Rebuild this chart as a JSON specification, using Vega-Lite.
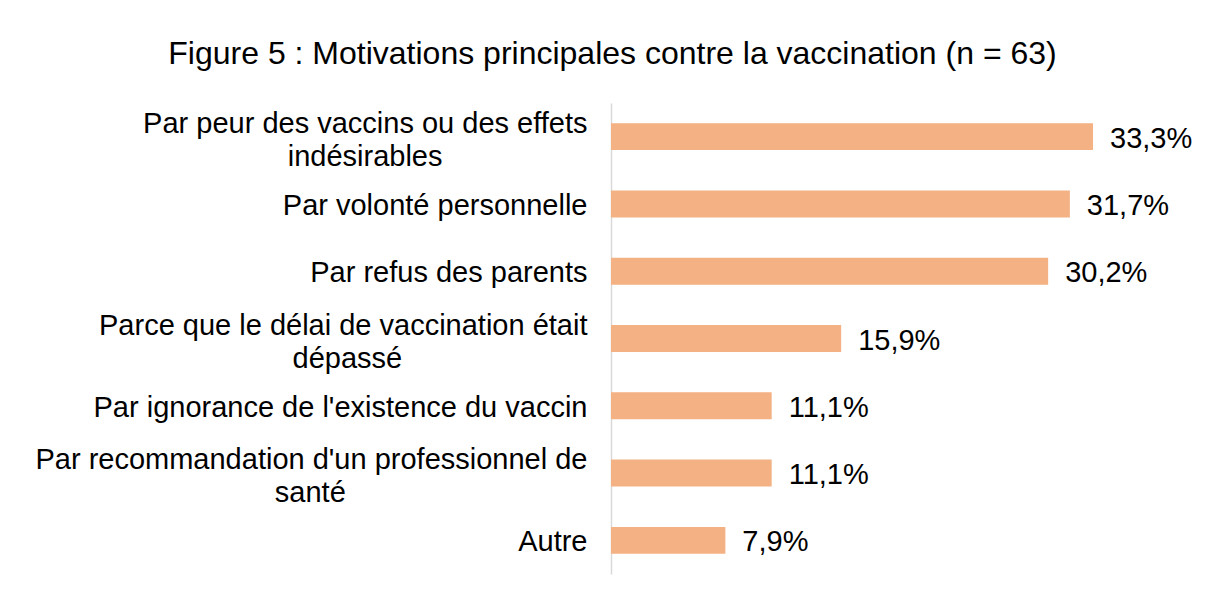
{
  "$schema": "https://vega.github.io/schema/vega-lite/v6.json",
  "width": 579,
  "height": 471,
  "autosize": "none",
  "padding": {"left": 611, "top": 103, "right": 26, "bottom": 18},
  "background": "white",
  "title": {
    "text": "Figure 5 : Motivations principales contre la vaccination (n = 63)",
    "font": "Liberation Sans",
    "fontSize": 32,
    "fontWeight": "normal",
    "color": "black",
    "anchor": "middle",
    "dx": -288,
    "offset": 32
  },
  "config": {"view": {"stroke": null}},
  "data": {
    "values": [
      {"motif": "Par peur des vaccins ou des effets|indésirables\u00a0\u00a0\u00a0\u00a0\u00a0\u00a0\u00a0\u00a0\u00a0\u00a0\u00a0\u00a0\u00a0\u00a0\u00a0\u00a0\u00a0\u00a0\u200b", "pct": 33.3, "label": "33,3%"},
      {"motif": "Par volonté personnelle", "pct": 31.7, "label": "31,7%"},
      {"motif": "Par refus des parents", "pct": 30.2, "label": "30,2%"},
      {"motif": "Parce que le délai de vaccination était|dépassé\u00a0\u00a0\u00a0\u00a0\u00a0\u00a0\u00a0\u00a0\u00a0\u00a0\u00a0\u00a0\u00a0\u00a0\u00a0\u00a0\u00a0\u00a0\u00a0\u00a0\u00a0\u00a0\u00a0\u200b", "pct": 15.9, "label": "15,9%"},
      {"motif": "Par ignorance de l'existence du vaccin", "pct": 11.1, "label": "11,1%"},
      {"motif": "Par recommandation d'un professionnel de|santé\u00a0\u00a0\u00a0\u00a0\u00a0\u00a0\u00a0\u00a0\u00a0\u00a0\u00a0\u00a0\u00a0\u00a0\u00a0\u00a0\u00a0\u00a0\u00a0\u00a0\u00a0\u00a0\u00a0\u00a0\u00a0\u00a0\u00a0\u00a0\u00a0\u00a0\u200b", "pct": 11.1, "label": "11,1%"},
      {"motif": "Autre", "pct": 7.9, "label": "7,9%"}
    ]
  },
  "encoding": {
    "y": {
      "field": "motif",
      "type": "nominal",
      "sort": null,
      "scale": {"paddingInner": 0.6, "paddingOuter": 0.3},
      "axis": {
        "title": null,
        "ticks": false,
        "domainColor": "#D9D9D9",
        "domainWidth": 1.5,
        "labelFont": "Liberation Sans",
        "labelFontSize": 29,
        "labelColor": "black",
        "labelPadding": 24,
        "labelLimit": 0,
        "labelLineHeight": 33,
        "labelOffset": {"condition": {"test": "indexof(datum.value, '|') >= 0", "value": -13}, "value": 2},
        "labelExpr": "split(datum.value, '|')"
      }
    },
    "x": {
      "field": "pct",
      "type": "quantitative",
      "scale": {"domain": [0, 40]},
      "axis": null
    }
  },
  "layer": [
    {"mark": {"type": "bar", "color": "#F4B183"}},
    {
      "mark": {
        "type": "text",
        "align": "left",
        "baseline": "middle",
        "dx": 17,
        "dy": 2,
        "font": "Liberation Sans",
        "fontSize": 29,
        "color": "black"
      },
      "encoding": {"text": {"field": "label"}}
    }
  ]
}
